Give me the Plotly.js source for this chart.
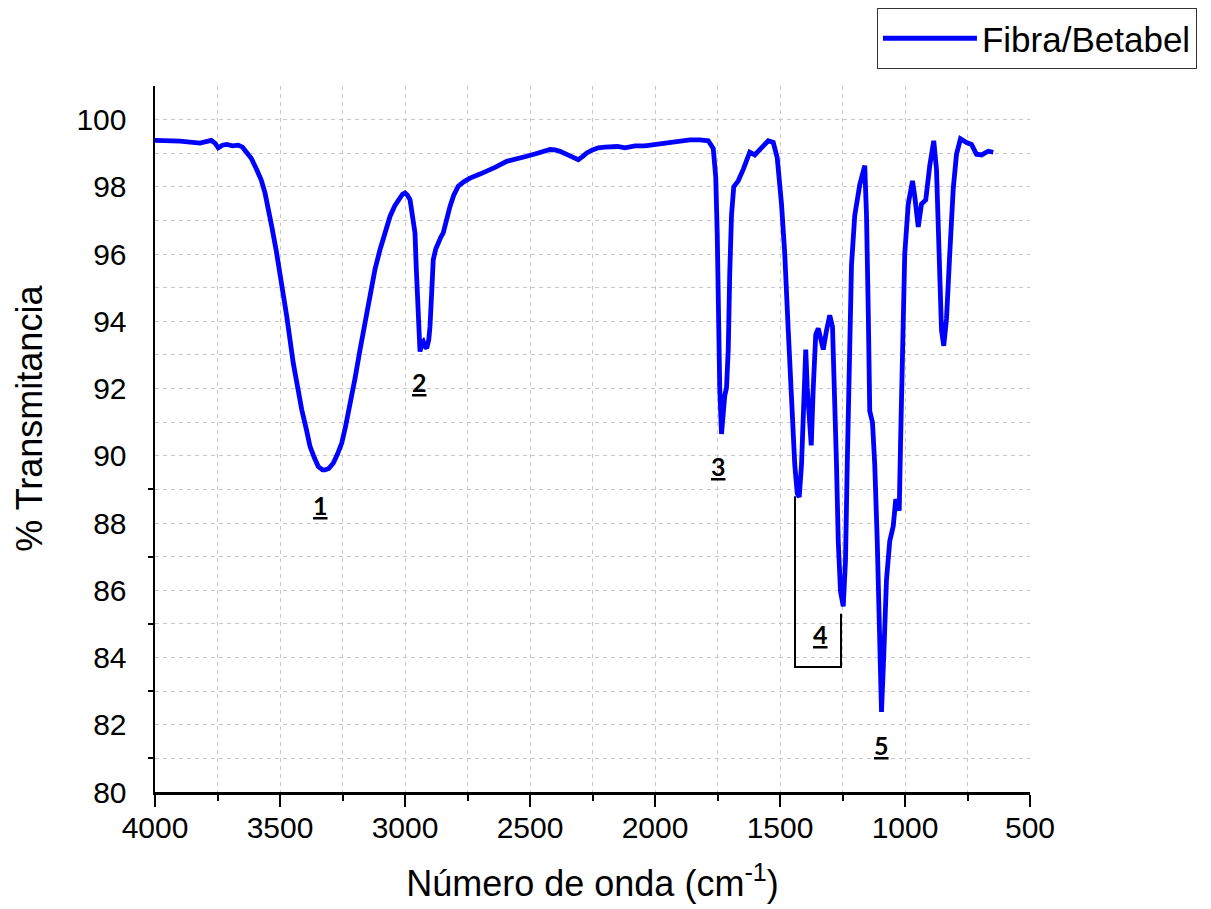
<!DOCTYPE html>
<html>
<head>
<meta charset="utf-8">
<script src="https://cdn.plot.ly/plotly-3.0.1.min.js"></script>
<style>html,body{margin:0;padding:0;background:#fff;}#chart{width:1211px;height:909px;}</style>
</head>
<body>
<div id="chart"></div>
<script>
// Wavenumber (cm^-1)
const waveNumber = [
4000,3900,3820,3790,3775,3760,3747,3730,3713,3690,3667,3650,3640,3615,3593,3575,3560,3545,3533,3515,
3500,3473,3447,3430,3413,3395,3380,3363,3347,3330,3320,3305,3287,3270,3253,3237,3220,3200,3180,3160,
3140,3120,3100,3080,3060,3040,3027,3010,3000,2990,2980,2970,2960,2955,2953,2950,2947,2943,2940,2933,
2927,2920,2913,2905,2900,2893,2887,2877,2867,2857,2847,2835,2820,2805,2787,2765,2740,2700,2673,2640,
2593,2550,2513,2470,2420,2400,2380,2340,2307,2290,2273,2250,2227,2200,2150,2120,2080,2040,2000,1950,
1900,1861,1820,1787,1767,1757,1751,1747,1741,1734,1727,1721,1714,1707,1701,1694,1685,1667,1647,1621,
1601,1574,1547,1527,1511,1494,1481,1467,1454,1441,1431,1423,1414,1405,1397,1391,1383,1375,1367,1357,
1347,1337,1327,1314,1301,1290,1281,1274,1267,1258,1247,1238,1231,1223,1214,1201,1181,1161,1154,1147,
1141,1130,1121,1111,1101,1094,1085,1074,1061,1047,1037,1023,1018,1010,1001,987,970,961,947,934,
917,901,885,874,863,854,845,834,821,807,794,778,754,734,714,694,667,647
];
// % Transmittance
const transmittance = [
99.38,99.36,99.30,99.36,99.38,99.30,99.16,99.24,99.26,99.22,99.24,99.18,99.10,98.85,98.51,98.20,97.82,97.35,96.82,96.10,
95.44,94.15,92.76,91.95,91.37,90.80,90.28,89.95,89.68,89.58,89.58,89.62,89.78,90.05,90.38,90.90,91.47,92.30,93.15,94.00,
94.84,95.55,96.13,96.65,97.12,97.45,97.62,97.78,97.82,97.75,97.62,97.20,96.63,95.60,95.14,94.40,93.65,93.30,93.10,93.35,
93.40,93.25,93.20,93.45,93.85,94.90,95.83,96.15,96.38,96.50,96.63,97.00,97.42,97.75,98.02,98.15,98.26,98.38,98.46,98.58,
98.76,98.86,98.91,99.00,99.11,99.10,99.06,98.92,98.81,98.90,99.01,99.10,99.16,99.18,99.20,99.16,99.22,99.22,99.26,99.30,
99.33,99.40,99.40,99.37,99.14,98.29,96.58,94.53,92.02,90.65,91.33,91.79,92.02,93.16,95.44,97.15,98.00,98.18,98.52,99.03,
98.95,99.14,99.37,99.32,98.86,97.49,96.01,93.73,91.45,89.74,88.88,88.77,89.74,91.45,93.16,92.02,91.11,90.31,92.02,93.61,
93.79,93.39,93.16,93.73,94.18,93.84,92.02,89.74,87.46,85.97,85.52,86.89,89.74,93.16,95.67,97.15,98.06,98.63,97.15,94.30,
91.33,90.99,89.74,87.46,84.61,82.38,84.04,86.32,87.46,87.91,88.71,88.37,90.31,93.16,96.01,97.49,98.18,97.72,96.81,97.49,
97.61,98.63,99.37,98.52,96.01,93.73,93.27,94.07,96.01,97.95,98.97,99.43,99.32,99.26,98.97,98.95,99.06,99.03
];
const seriesName = "Fibra/Betabel";

// Band labels
const bandLabels = ["1","2","3","4","5"];
const bandLabelX = [3340,2944,1748,1340,1096];
const bandLabelY = [88.55,92.2,89.7,84.7,81.4];

// Bracket around band 4
const bracketX = [1440,1440,1256,1256];
const bracketY = [88.8,83.72,83.72,85.3];

// Axis ticks
const yTickVals = [80,82,84,86,88,90,92,94,96,98,100];
const yMinorTicks = [81,83,85,87,89];
const xTickVals = [4000,3500,3000,2500,2000,1500,1000,500];

const FONT = "Liberation Sans, Arial, sans-serif";

const trace = {
  x: waveNumber, y: transmittance, type: "scatter", mode: "lines",
  name: seriesName,
  line: {color: "rgb(0,0,255)", width: 4.8}
};

const bracketPath = bracketX.map((x, i) => (i === 0 ? "M" : "L") + x + "," + bracketY[i]).join(" ");

const layout = {
  width: 1211, height: 909,
  margin: {l: 155, r: 181, t: 86.4, b: 117, autoexpand: false},
  paper_bgcolor: "#fff", plot_bgcolor: "#fff",
  font: {family: FONT, color: "#000"},
  showlegend: true,
  legend: {
    xref: "container", yref: "container",
    x: 0.9884, y: 0.9912, xanchor: "right", yanchor: "top",
    bordercolor: "#333", borderwidth: 1, bgcolor: "#fff",
    font: {family: FONT, size: 35, color: "#000"},
    itemwidth: 94
  },
  xaxis: {
    range: [4000, 500], autorange: false,
    tickmode: "array", tickvals: xTickVals,
    ticks: "outside", ticklen: 12, tickwidth: 2, tickcolor: "#000",
    showline: true, linecolor: "#000", linewidth: 2.5, mirror: false,
    showgrid: true, gridcolor: "#c8c8c8", gridwidth: 1, griddash: "4px,4px",
    minor: {dtick: 250, tick0: 0, ticks: "outside", ticklen: 6, tickwidth: 2, tickcolor: "#000",
            showgrid: true, gridcolor: "#c8c8c8", gridwidth: 1, griddash: "4px,4px"},
    zeroline: false,
    tickfont: {family: FONT, size: 30, color: "#000"},
    ticklabelstandoff: -5,
    title: {text: "Número de onda (cm<sup>-1</sup>)", font: {family: FONT, size: 36, color: "#000"}, standoff: 29}
  },
  yaxis: {
    range: [80, 101], autorange: false,
    tickmode: "array", tickvals: yTickVals,
    ticks: "",
    showline: true, linecolor: "#000", linewidth: 2.5,
    showgrid: true, gridcolor: "#c8c8c8", gridwidth: 1, griddash: "4px,4px",
    minor: {dtick: 1, tick0: 0, ticks: "", showgrid: true, gridcolor: "#c8c8c8", gridwidth: 1, griddash: "4px,4px"},
    zeroline: false,
    tickfont: {family: FONT, size: 30, color: "#000"},
    ticklabelstandoff: 20
  },
  yaxis2: {
    overlaying: "y", side: "left", anchor: "x",
    range: [80, 101], autorange: false,
    tickmode: "array", tickvals: yMinorTicks,
    ticks: "outside", ticklen: 6, tickwidth: 2, tickcolor: "#000",
    showticklabels: false, showgrid: false, showline: false, zeroline: false
  },
  annotations: bandLabels.map((t, i) => ({
    x: bandLabelX[i], y: bandLabelY[i], xref: "x", yref: "y",
    text: "<b><u>" + t + "</u></b>", showarrow: false,
    font: {family: "Lato, Liberation Sans, sans-serif", size: 25, color: "#000"}
  })).concat([{
    x: -0.143, y: 0.53, xref: "paper", yref: "paper",
    text: "% Transmitancia", textangle: -90, showarrow: false,
    xanchor: "center", yanchor: "middle",
    font: {family: FONT, size: 36, color: "#000"}
  }]),
  shapes: [{
    type: "path", xref: "x", yref: "y", path: bracketPath,
    line: {color: "#000", width: 2}
  }]
};

const ticksTrace = {x: [], y: [], yaxis: "y2", type: "scatter", mode: "lines", showlegend: false, hoverinfo: "skip"};

Plotly.newPlot("chart", [trace, ticksTrace], layout, {displayModeBar: false, staticPlot: true});
</script>
</body>
</html>
